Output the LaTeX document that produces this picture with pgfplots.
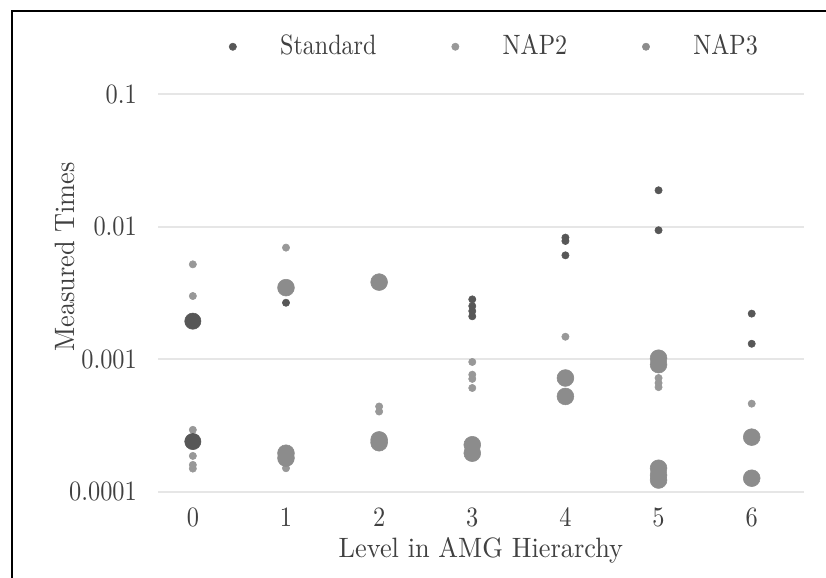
\documentclass[border=0pt]{standalone}
\usepackage{graphicx}
\usepackage{pgfplots}
\pgfplotsset{compat=1.18}
\definecolor{stdc}{HTML}{575757}
\definecolor{nap2c}{HTML}{989898}
\definecolor{nap3c}{HTML}{8C8C8C}
\definecolor{gridc}{HTML}{E6E6E6}
\definecolor{txtc}{HTML}{404040}
\newcommand{\tkx}[1]{\scalebox{0.87}[1]{#1}}
\newcommand{\lbx}[1]{\scalebox{0.94}[1]{#1}}
\newcommand{\lgx}[1]{\scalebox{0.86}[1]{#1}}
\begin{document}
\begin{tikzpicture}
\useasboundingbox (-56.4pt,-30.4pt) rectangle (238.6pt,175.7pt);
\draw[line width=0.8pt,black] (-52.2pt,-31pt) -- (-52.2pt,171.8pt) -- (239pt,171.8pt);
\begin{axis}[
  at={(0,0)}, anchor=south west,
  scale only axis, width=230.7pt, height=167.9pt,
  ymode=log, ymin=1e-4, ymax=0.35,
  xmin=-0.375, xmax=6.56,
  xtick={0,1,2,3,4,5,6},
  xticklabels={\tkx{0},\tkx{1},\tkx{2},\tkx{3},\tkx{4},\tkx{5},\tkx{6}},
  ytick={1e-4,1e-3,1e-2,1e-1},
  yticklabels={\tkx{0.0001},\tkx{0.001},\tkx{0.01},\tkx{0.1}},
  minor ytick={},
  axis line style={draw=none},
  tick style={draw=none},
  major tick length=0pt, minor tick length=0pt,
  ymajorgrids, grid style={gridc, line width=0.6pt},
  ticklabel style={text=txtc},
  label style={text=txtc},
  xlabel={\lbx{Level in AMG Hierarchy}},
  ylabel={\lbx{Measured Times}},
  xlabel style={yshift=3pt},
  ylabel style={yshift=-9pt},
  yticklabel style={xshift=-4pt},
  xticklabel style={yshift=-2pt},
  legend columns=3,
  legend style={draw=none, fill=none, at={(0.508,0.947)}, anchor=center,
    text=txtc, /tikz/every even column/.append style={column sep=17.5pt}},
  legend image code/.code={\draw[#1] plot coordinates {(0.3cm,0cm)}; \path (0cm,0cm) (0.82cm,0cm);},
]
\addplot[only marks, mark=*, mark size=1.3pt, color=stdc, line width=0.2pt] coordinates {
(1,0.00267) (3,0.00283) (3,0.00252) (3,0.00231) (3,0.00211)
(4,0.00827) (4,0.0078) (4,0.00608) (5,0.0188) (5,0.0094) (6,0.00221) (6,0.00131)};
\addlegendentry{\lgx{Standard}}
\addplot[only marks, mark=*, mark size=1.3pt, color=nap2c, line width=0.2pt] coordinates {
(0,0.0052) (0,0.0030) (0,0.000294) (0,0.000187) (0,0.00016) (0,0.00015)
(1,0.00695) (1,0.000151) (2,0.000441) (2,0.000404)
(3,0.000955) (3,0.000766) (3,0.000712) (3,0.000608) (4,0.00148)
(5,0.000723) (5,0.000663) (5,0.000617) (6,0.000463)};
\addlegendentry{\lgx{NAP2}}
\addplot[only marks, mark=*, mark size=3.0pt, color=nap3c, line width=0.2pt, forget plot] coordinates {
(1,0.00347) (1,0.000196) (1,0.00018) (2,0.00382) (2,0.000247) (2,0.000235)
(3,0.000227) (3,0.000196) (4,0.000723) (4,0.000525)
(5,0.00102) (5,0.000912) (5,0.000151) (5,0.000134) (5,0.000123)
(6,0.000259) (6,0.000127)};
\addplot[only marks, mark=*, mark size=2.9pt, color=stdc, line width=0.2pt, forget plot] coordinates {
(0,0.00194) (0,0.00024)};
\addlegendimage{only marks, mark=*, mark size=1.3pt, color=nap3c, line width=0.2pt}
\addlegendentry{\lgx{NAP3}}
\end{axis}
\end{tikzpicture}
\end{document}
